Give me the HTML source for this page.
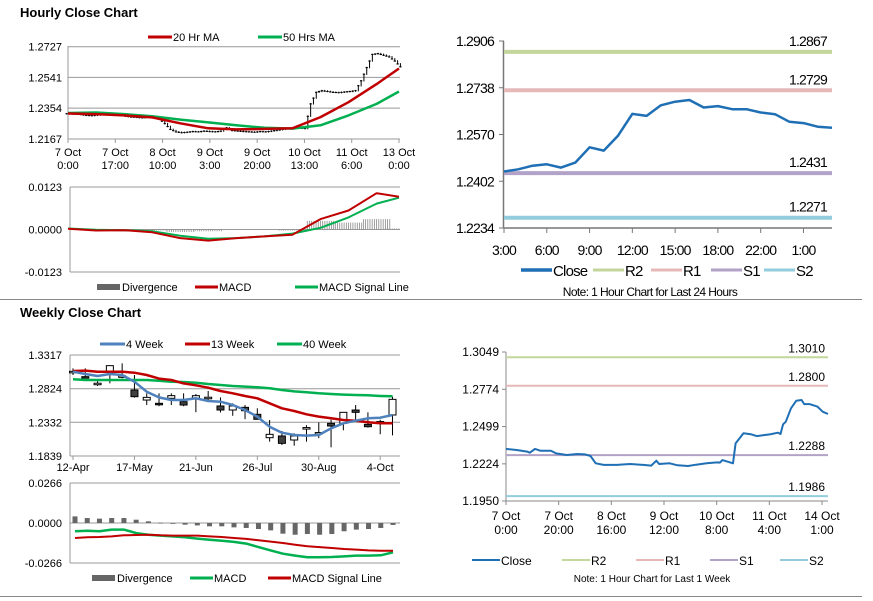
<!DOCTYPE html>
<html><head><meta charset="utf-8">
<style>
body{margin:0;background:#fff;}
svg{display:block;font-family:"Liberation Sans",Arial,sans-serif;}
text{fill:#000;}
</style></head>
<body>
<svg id="c" width="873" height="601" viewBox="0 0 873 601">
<text x="20" y="17" font-size="13" font-weight="bold">Hourly Close Chart</text>
<text x="20" y="317" font-size="13" font-weight="bold">Weekly Close Chart</text>
<line x1="0" y1="299.5" x2="862" y2="299.5" stroke="#888"/>
<line x1="0" y1="596.5" x2="862" y2="596.5" stroke="#888"/>
</svg>
<script>
// ---------- data ----------
const hourlyTicks = ["7 Oct|0:00","7 Oct|17:00","8 Oct|10:00","9 Oct|3:00","9 Oct|20:00","10 Oct|13:00","11 Oct|6:00","13 Oct|0:00"];
const hourlyYTicks = [1.2727,1.2541,1.2354,1.2167];
const hourlyClose = [1.2320,1.2318,1.2315,1.2310,1.2308,1.2312,1.2318,1.2315,1.2312,1.2310,
 1.2305,1.2300,1.2298,1.2295,1.2298,1.2295,1.2290,
 1.2260,1.2225,1.2210,1.2205,1.2208,1.2212,1.2210,1.2215,
 1.2212,1.2210,1.2215,1.2235,1.2218,1.2215,1.2212,1.2210,1.2208,1.2212,1.2210,
 1.2215,1.2220,1.2225,1.2232,1.2236,1.2233,1.2230,
 1.2380,1.2450,1.2460,1.2455,1.2450,1.2448,1.2452,1.2455,1.2460,
 1.2520,1.2600,1.2680,1.2685,1.2675,1.2665,1.2640,1.2605];
const maIdx = [0,5,10,15,20,25,30,35,40,45,50,55,59];
const ma20 = [1.2322,1.2318,1.2310,1.2298,1.2262,1.2232,1.2225,1.2228,1.2232,1.2300,1.2390,1.2500,1.2595];
const ma50 = [1.2325,1.2328,1.2318,1.2305,1.2285,1.2268,1.2250,1.2235,1.2230,1.2250,1.2310,1.2380,1.2455];
const hMacd = [0.0002,-0.0003,-0.0002,-0.0008,-0.0025,-0.0032,-0.0025,-0.0020,-0.0015,0.0030,0.0055,0.0105,0.0095];
const hSignal = [0.0003,-0.0001,-0.0002,-0.0005,-0.0018,-0.0027,-0.0025,-0.0020,-0.0012,0.0005,0.0035,0.0075,0.0092];
const hMacdTicks = [0.0123,0.0000,-0.0123];

const weekLabels = ["12-Apr","17-May","21-Jun","26-Jul","30-Aug","4-Oct"];
const weekLabelIdx = [0,5,10,15,20,25];
const weekYTicks = [1.3317,1.2824,1.2332,1.1839];
const wOpen = [1.3070,1.3000,1.2900,1.3073,1.3008,1.2805,1.2658,1.2610,1.2683,1.2634,1.2683,1.2695,1.2571,1.2512,1.2551,1.2449,1.2107,1.2132,1.2073,1.2251,1.2180,1.2317,1.2317,1.2512,1.2302,1.2339,1.2439];
const wClose = [1.3078,1.2985,1.2904,1.3161,1.3012,1.2707,1.2697,1.2595,1.2722,1.2585,1.2722,1.2699,1.2512,1.2571,1.2502,1.2376,1.2156,1.2024,1.2132,1.2255,1.2182,1.2278,1.2478,1.2478,1.2268,1.2343,1.2668];
const wHigh = [1.3122,1.3122,1.2951,1.3161,1.3195,1.3024,1.2756,1.2756,1.2756,1.2756,1.2746,1.2790,1.2697,1.2610,1.2585,1.2537,1.2366,1.2205,1.2171,1.2290,1.2330,1.2370,1.2478,1.2585,1.2478,1.2370,1.2707];
const wLow = [1.3024,1.2976,1.2863,1.2902,1.2976,1.2693,1.2585,1.2568,1.2585,1.2568,1.2480,1.2658,1.2475,1.2427,1.2378,1.2378,1.2049,1.2000,1.1990,1.2049,1.2100,1.1966,1.2215,1.2366,1.2254,1.2158,1.2141];
const ma4w = [1.3073,1.3039,1.3010,1.3039,1.3024,1.2927,1.2780,1.2697,1.2658,1.2658,1.2683,1.2644,1.2634,1.2585,1.2512,1.2415,1.2268,1.2180,1.2146,1.2137,1.2146,1.2244,1.2317,1.2356,1.2390,1.2400,1.2439];
const ma13w = [1.3083,1.3088,1.3073,1.3073,1.3073,1.3058,1.3024,1.2971,1.2951,1.2902,1.2873,1.2839,1.2790,1.2756,1.2717,1.2683,1.2610,1.2537,1.2497,1.2449,1.2415,1.2390,1.2366,1.2356,1.2332,1.2317,1.2317];
const ma40w = [1.2961,1.2951,1.2951,1.2951,1.2951,1.2951,1.2951,1.2941,1.2927,1.2922,1.2912,1.2893,1.2878,1.2863,1.2854,1.2844,1.2829,1.2805,1.2785,1.2771,1.2756,1.2746,1.2737,1.2732,1.2727,1.2717,1.2712];
const wDiv = [0.0044,0.0033,0.0029,0.0033,0.0033,0.0022,0.0011,0.0002,-0.0004,-0.0011,-0.0016,-0.0022,-0.0022,-0.0029,-0.0033,-0.0040,-0.0049,-0.0071,-0.0078,-0.0073,-0.0078,-0.0073,-0.0055,-0.0044,-0.0040,-0.0033,-0.0013];
const wMacd = [-0.0055,-0.0051,-0.0055,-0.0044,-0.0044,-0.0067,-0.0078,-0.0084,-0.0089,-0.0095,-0.0104,-0.0111,-0.0118,-0.0126,-0.0137,-0.0160,-0.0182,-0.0204,-0.0217,-0.0228,-0.0228,-0.0226,-0.0222,-0.0217,-0.0217,-0.0215,-0.0195];
const wSignal = [-0.0100,-0.0095,-0.0093,-0.0089,-0.0082,-0.0080,-0.0078,-0.0082,-0.0084,-0.0084,-0.0084,-0.0089,-0.0093,-0.0100,-0.0106,-0.0115,-0.0124,-0.0133,-0.0144,-0.0155,-0.0160,-0.0166,-0.0173,-0.0177,-0.0182,-0.0184,-0.0184];
const wMacdTicks = [0.0266,0.0000,-0.0266];

const d24Ticks = ["3:00","6:00","9:00","12:00","15:00","18:00","22:00","1:00"];
const d24YTicks = [1.2906,1.2738,1.2570,1.2402,1.2234];
const d24Close = [1.2437,1.2445,1.2458,1.2463,1.2451,1.2469,1.2524,1.2512,1.2566,1.2644,1.2637,1.2675,1.2688,1.2694,1.2667,1.2672,1.2661,1.2661,1.2649,1.2643,1.2616,1.2611,1.2598,1.2594];
const d24Levels = [1.2867,1.2729,1.2431,1.2271];

const wkTicks = ["7 Oct|0:00","7 Oct|20:00","8 Oct|16:00","9 Oct|12:00","10 Oct|8:00","11 Oct|4:00","14 Oct|1:00"];
const wkYTicks = [1.3049,1.2774,1.2499,1.2224,1.1950];
const wkHours = [0,4,8,9,11,13,17,19,23,27,30,32,34,37,42,47,52,55,57,58,62,65,69,72,76,80,81,82,86,87,90,93,95,98,100,103,104,105,106,108,110,112,113,115,118,120,122];
const wkClose = [1.2334,1.2326,1.2314,1.2306,1.2334,1.2321,1.2321,1.2301,1.2289,1.2297,1.2294,1.2282,1.2228,1.2216,1.2216,1.2223,1.2216,1.2211,1.2247,1.2223,1.2228,1.2213,1.2208,1.2218,1.2228,1.2235,1.2233,1.2252,1.2228,1.2375,1.2449,1.2441,1.2429,1.2437,1.2441,1.2454,1.2444,1.2516,1.2535,1.2634,1.2690,1.2695,1.2665,1.2665,1.2646,1.2609,1.2592];
const wkLevels = [1.3010,1.2800,1.2288,1.1986];
const levelNames = ["R2","R1","S1","S2"];
const levelColors = ["#c3d69b","#e6b9b8","#b3a2c7","#93cddd"];

// ---------- helpers ----------
const NS="http://www.w3.org/2000/svg";
const svg=document.getElementById('c');
function mk(tag,attrs,parent){const e=document.createElementNS(NS,tag);for(const k in attrs)e.setAttribute(k,attrs[k]);(parent||svg).appendChild(e);return e;}
function lin(d0,d1,r0,r1){return v=>r0+(v-d0)/(d1-d0)*(r1-r0);}
function grp(name){const g=mk('g',{});


return g;}
function txt(g,x,y,s,anchor,size){const t=mk('text',{x:x,y:y,'font-size':size||11,'text-anchor':anchor||'start'},g);t.textContent=s;return t;}
function path(g,xs,ys,color,w){let d='';for(let i=0;i<xs.length;i++)d+=(i?'L':'M')+xs[i].toFixed(1)+','+ys[i].toFixed(1);return mk('path',{d:d,fill:'none',stroke:color,'stroke-width':w,'stroke-linejoin':'round'},g);}
function legendLine(g,x,y,color,w,label,len){mk('line',{x1:x,y1:y,x2:x+(len||24),y2:y,stroke:color,'stroke-width':w},g);txt(g,x+(len||24)+1,y+4,label);}

// ---------- Hourly price ----------
(function(){
const g=grp('hourly-price-chart');
const X0=68,X1=399,xs=lin(0,hourlyClose.length-1,X0,X1),ys=lin(1.2167,1.2727,139,46.7);
hourlyYTicks.forEach((v,i)=>{const y=ys(v);
 const l=mk('line',{x1:X0,y1:y,x2:400,y2:y,stroke:'#999','stroke-width':1},g);
 
 const t=txt(g,62,y+4,v.toFixed(4),'end');
 });
mk('line',{x1:X0,y1:46,x2:X0,y2:139,stroke:'#999'},g);
const tx=lin(0,hourlyTicks.length-1,68,399);
hourlyTicks.forEach((s,i)=>{const p=s.split('|');const x=tx(i);
 mk('line',{x1:x,y1:139,x2:x,y2:143,stroke:'#999'},g);
 const t1=txt(g,x,156,p[0],'middle');
 
 txt(g,x,169,p[1],'middle');});
const step=(X1-X0)/(hourlyClose.length-1);
hourlyClose.forEach((v,i)=>{const pv=i?hourlyClose[i-1]:v;
 for(let j=0;j<2;j++){const x=xs(i)-step/2+j*step/2+step/4;const mid=j?v:(v+pv)/2;const prev=j?(v+pv)/2:pv;
 const hi=Math.max(mid,prev)+0.0005,lo=Math.min(mid,prev)-0.0004;
 const b=mk('line',{x1:x,y1:ys(hi),x2:x,y2:ys(lo),stroke:'#000','stroke-width':1},g);
 
 
 mk('line',{x1:x-1.2,y1:ys(mid),x2:x+1.2,y2:ys(mid),stroke:'#000','stroke-width':1},g);}});
const p50=path(g,maIdx.map(xs),ma50.map(ys),'#00b050',2.5);

const p20=path(g,maIdx.map(xs),ma20.map(ys),'#c00000',2.5);

const lg=grp('hourly-legend');
legendLine(lg,148,37,'#c00000',3,'20 Hr MA');
legendLine(lg,258,37,'#00b050',3,'50 Hrs MA');
})();

// ---------- Hourly MACD ----------
(function(){
const g=grp('hourly-macd-chart');
const xs=lin(0,59,68,399),ys=lin(-0.0123,0.0123,272,187);
hMacdTicks.forEach(v=>{const y=ys(v);
 const t=txt(g,62,y+4,v.toFixed(4),'end');
 });
mk('line',{x1:70,y1:187,x2:70,y2:272,stroke:'#999'},g);
mk('line',{x1:70,y1:187,x2:400,y2:187,stroke:'#999'},g);
mk('line',{x1:70,y1:272,x2:400,y2:272,stroke:'#999'},g);
mk('line',{x1:70,y1:ys(0),x2:400,y2:ys(0),stroke:'#999'},g);
maIdx.forEach((k,i)=>{const d=hMacd[i]-hSignal[i];const x=xs(k);
 for(let j=-6;j<=6;j++){const xx=x+j*2.2;if(xx<70||xx>399)continue;const b=mk('line',{x1:xx,y1:ys(0),x2:xx,y2:ys(d),stroke:'#888','stroke-width':0.8},g);
 }});
const ps=path(g,maIdx.map(xs),hSignal.map(ys),'#00b050',2);

const pm=path(g,maIdx.map(xs),hMacd.map(ys),'#c00000',2);

const lg=grp('hourly-macd-legend');
mk('rect',{x:97,y:284,width:23,height:6,fill:'#666'},lg);txt(lg,122,291,'Divergence');
legendLine(lg,195,287,'#c00000',3,'MACD',23);
legendLine(lg,295,287,'#00b050',3,'MACD Signal Line',23);
})();

// ---------- Weekly price ----------
(function(){
const g=grp('weekly-price-chart');
const xs=lin(0,26,73,392.5),ys=lin(1.1839,1.3317,456,355);
weekYTicks.forEach(v=>{const y=ys(v);
 const l=mk('line',{x1:70,y1:y,x2:400,y2:y,stroke:'#999'},g);
 
 const t=txt(g,62,y+4,v.toFixed(4),'end');
 });
mk('line',{x1:70,y1:355,x2:70,y2:456,stroke:'#999'},g);
weekLabels.forEach((s,i)=>{const x=xs(weekLabelIdx[i]);
 mk('line',{x1:x,y1:456,x2:x,y2:460,stroke:'#999'},g);
 const t=txt(g,x,471,s,'middle');
 });
wOpen.forEach((o,i)=>{const c=wClose[i],x=xs(i);
 mk('line',{x1:x,y1:ys(wHigh[i]),x2:x,y2:ys(wLow[i]),stroke:'#000'},g);
 const top=ys(Math.max(o,c)),h=Math.max(1.5,Math.abs(ys(o)-ys(c)));
 const r=mk('rect',{x:x-3.5,y:top,width:7,height:h,fill:c>=o?'#fff':'#404040',stroke:'#000','stroke-width':1},g);
 
 });
const l40=path(g,ma40w.map((v,i)=>xs(i)),ma40w.map(ys),'#00b050',2.5);

const l13=path(g,ma13w.map((v,i)=>xs(i)),ma13w.map(ys),'#c00000',2.5);

const l4=path(g,ma4w.map((v,i)=>xs(i)),ma4w.map(ys),'#4f81bd',2.5);

const lg=grp('weekly-legend');
legendLine(lg,100,344,'#4f81bd',3,'4 Week',25);
legendLine(lg,185,344,'#c00000',3,'13 Week',25);
legendLine(lg,277,344,'#00b050',3,'40 Week',25);
})();

// ---------- Weekly MACD ----------
(function(){
const g=grp('weekly-macd-chart');
const xs=lin(0,26,75,393),ys=lin(-0.0266,0.0266,563,483);
wMacdTicks.forEach(v=>{const y=ys(v);
 const t=txt(g,62,y+4,v.toFixed(4),'end');
 });
mk('line',{x1:70,y1:483,x2:70,y2:563,stroke:'#999'},g);
mk('line',{x1:70,y1:483,x2:400,y2:483,stroke:'#999'},g);
mk('line',{x1:70,y1:563,x2:400,y2:563,stroke:'#999'},g);
mk('line',{x1:70,y1:ys(0),x2:400,y2:ys(0),stroke:'#999'},g);
wDiv.forEach((d,i)=>{const x=xs(i),y0=ys(0),y1=ys(d);
 const b=mk('rect',{x:x-2.5,y:Math.min(y0,y1),width:5,height:Math.max(0.8,Math.abs(y1-y0)),fill:'#666'},g);
 });
const pm=path(g,wMacd.map((v,i)=>xs(i)),wMacd.map(ys),'#00b050',2.5);

const ps=path(g,wSignal.map((v,i)=>xs(i)),wSignal.map(ys),'#c00000',2);

const lg=grp('weekly-macd-legend');
mk('rect',{x:92,y:575,width:23,height:6,fill:'#666'},lg);txt(lg,117,582,'Divergence');
legendLine(lg,190,578,'#00b050',3,'MACD',23);
legendLine(lg,268,578,'#c00000',3,'MACD Signal Line',23);
})();

// ---------- 24h chart ----------
(function(){
const g=grp('last-24h-chart');
const xs=lin(0,23,504,832),ys=lin(1.2234,1.2906,228,41);
mk('line',{x1:503.5,y1:41,x2:503.5,y2:228,stroke:'#777','stroke-width':1.5},g);
mk('line',{x1:503.5,y1:228,x2:832,y2:228,stroke:'#777','stroke-width':1.5},g);
d24YTicks.forEach(v=>{const y=ys(v);
 mk('line',{x1:499,y1:y,x2:504,y2:y,stroke:'#777'},g);
 const t=txt(g,494,y+5,v.toFixed(4),'end',14);
 
 t.setAttribute('letter-spacing','-0.8');});
d24Ticks.forEach((s,i)=>{const x=xs(i*3);
 mk('line',{x1:x,y1:228,x2:x,y2:233,stroke:'#777'},g);
 const t=txt(g,x,255,s,'middle',14);
 
 t.setAttribute('letter-spacing','-0.8');});
d24Levels.forEach((v,i)=>{const y=ys(v);
 const l=mk('line',{x1:504,y1:y,x2:832,y2:y,stroke:levelColors[i],'stroke-width':4},g);
 
 const t=txt(g,827,y-6,v.toFixed(4),'end',14);
 
 t.setAttribute('letter-spacing','-0.8');});
const pc=path(g,d24Close.map((v,i)=>xs(i)),d24Close.map(ys),'#1f6fb5',2.5);

const lg=grp('d24-legend');
const items=[["Close",553,'#1f6fb5'],["R2",625,levelColors[0]],["R1",683,levelColors[1]],["S1",743,levelColors[2]],["S2",796,levelColors[3]]];
items.forEach((it,i)=>{mk('line',{x1:it[1]-32,y1:270,x2:it[1]-1,y2:270,stroke:it[2],'stroke-width':i?3:3.5},lg);
 const t=txt(lg,it[1],276,it[0],'start',15);t.setAttribute('letter-spacing','-0.8');});
const n=txt(g,650,296,'Note: 1 Hour Chart for Last 24 Hours','middle',12);
n.setAttribute('letter-spacing','-0.6');

})();

// ---------- 1 week chart ----------
(function(){
const g=grp('last-week-chart');
const xs=lin(0,122,506,828),ys=lin(1.1950,1.3049,501,352);
mk('line',{x1:506,y1:352,x2:506,y2:501,stroke:'#888'},g);
mk('line',{x1:506,y1:501,x2:828,y2:501,stroke:'#888'},g);
wkYTicks.forEach(v=>{const y=ys(v);
 mk('line',{x1:502,y1:y,x2:506,y2:y,stroke:'#888'},g);
 const t=txt(g,499,y+4,v.toFixed(4),'end',12);
 });
const tx=lin(0,6,506,822);
wkTicks.forEach((s,i)=>{const p=s.split('|');const x=tx(i);
 mk('line',{x1:x,y1:501,x2:x,y2:505,stroke:'#888'},g);
 const t=txt(g,x,520,p[0],'middle',12);
 
 txt(g,x,534,p[1],'middle',12);});
wkLevels.forEach((v,i)=>{const y=ys(v);
 const l=mk('line',{x1:506,y1:y,x2:828,y2:y,stroke:levelColors[i],'stroke-width':2},g);
 
 const t=txt(g,825,y-5,v.toFixed(4),'end',12);
 });
const pc=path(g,wkHours.map(xs),wkClose.map(ys),'#1f6fb5',2);

const lg=grp('wk-legend');
const items=[["Close",500,'#1f6fb5'],["R2",590,levelColors[0]],["R1",664,levelColors[1]],["S1",738,levelColors[2]],["S2",808,levelColors[3]]];
items.forEach(it=>{mk('line',{x1:it[1]-28,y1:560,x2:it[1],y2:560,stroke:it[2],'stroke-width':2},lg);txt(lg,it[1]+1,565,it[0],'start',12);});
const n=txt(g,652,582,'Note: 1 Hour Chart for Last 1 Week','middle',10);

})();
</script>
</body></html>
